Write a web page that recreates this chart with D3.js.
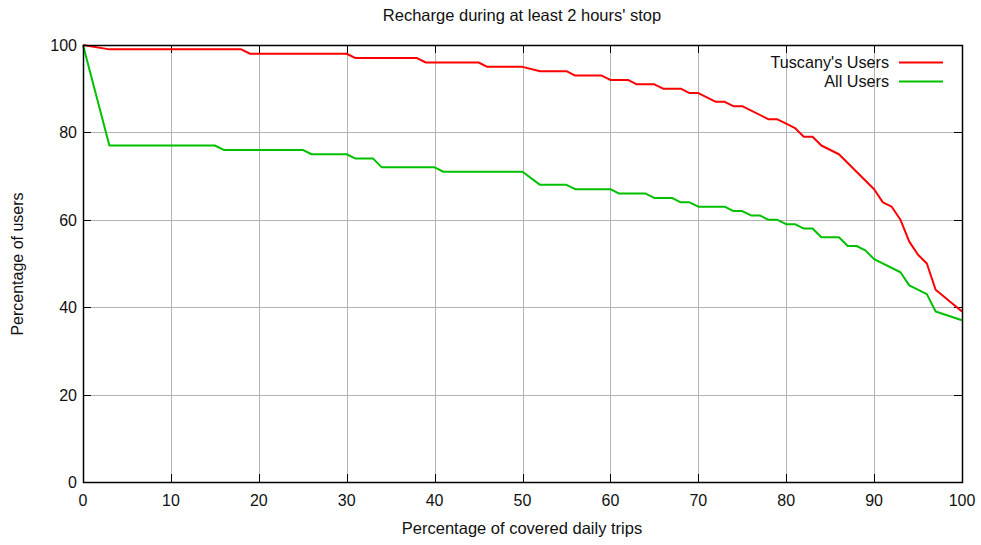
<!DOCTYPE html>
<html>
<head>
<meta charset="utf-8">
<script src="https://cdn.jsdelivr.net/npm/d3@7"></script>
<style>
  html, body { margin: 0; padding: 0; background: #fff; }
  svg { display: block; }
  text { font-family: "Liberation Sans", Arial, Helvetica, sans-serif; fill: #111; }
</style>
</head>
<body>
<svg id="chart" width="981" height="545"></svg>
<script>
// Percentage of covered daily trips (x) vs percentage of users (y)
const tuscanyX = [0, 3, 18, 19, 30, 31, 38, 39, 45, 46, 50, 52, 55, 56, 59, 60, 62, 63, 65, 66, 68, 69, 70, 72, 73, 74, 75, 78, 79, 80, 81, 82, 83, 84, 86, 90, 91, 92, 93, 94, 95, 96, 97, 100];
const tuscanyY = [100, 99, 99, 98, 98, 97, 97, 96, 96, 95, 95, 94, 94, 93, 93, 92, 92, 91, 91, 90, 90, 89, 89, 87, 87, 86, 86, 83, 83, 82, 81, 79, 79, 77, 75, 67, 64, 63, 60, 55, 52, 50, 44, 39];

const allX = [0, 3, 15, 16, 25, 26, 30, 31, 33, 34, 40, 41, 50, 52, 55, 56, 60, 61, 64, 65, 67, 68, 69, 70, 73, 74, 75, 76, 77, 78, 79, 80, 81, 82, 83, 84, 86, 87, 88, 89, 90, 93, 94, 96, 97, 100];
const allY = [100, 77, 77, 76, 76, 75, 75, 74, 74, 72, 72, 71, 71, 68, 68, 67, 67, 66, 66, 65, 65, 64, 64, 63, 63, 62, 62, 61, 61, 60, 60, 59, 59, 58, 58, 56, 56, 54, 54, 53, 51, 48, 45, 43, 39, 37];

const seriesNames = ["Tuscany's Users", "All Users"];
const seriesColors = ["#ff0000", "#00c000"];

const xTicks = [0, 10, 20, 30, 40, 50, 60, 70, 80, 90, 100];
const yTicks = [0, 20, 40, 60, 80, 100];

const titleText = "Recharge during at least 2 hours' stop";
const xLabelText = "Percentage of covered daily trips";
const yLabelText = "Percentage of users";

const svg = d3.select("#chart");
const plotL = 83, plotR = 962, plotT = 45, plotB = 482;

const x = d3.scaleLinear().domain([0, 100]).range([plotL, plotR]);
const y = d3.scaleLinear().domain([0, 100]).range([plotB, plotT]);
const px = v => Math.round(v) + 0.5;

// grid
const grid = svg.append("g").attr("stroke", "#b4b4b4").attr("stroke-width", 1);
grid.selectAll("line.vx").data(xTicks.slice(1, -1)).join("line")
  .attr("x1", d => px(x(d))).attr("x2", d => px(x(d)))
  .attr("y1", plotT).attr("y2", plotB);
grid.selectAll("line.hy").data(yTicks.slice(1, -1)).join("line")
  .attr("y1", d => px(y(d))).attr("y2", d => px(y(d)))
  .attr("x1", plotL).attr("x2", plotR);

// inward tick marks on all four sides
const tickLen = 8;
const axes = svg.append("g").attr("stroke", "#000").attr("stroke-width", 1);
axes.selectAll("line.yl").data(yTicks).join("line")
  .attr("x1", plotL).attr("x2", plotL + tickLen)
  .attr("y1", d => px(y(d))).attr("y2", d => px(y(d)));
axes.selectAll("line.yr").data(yTicks).join("line")
  .attr("x1", plotR - tickLen).attr("x2", plotR)
  .attr("y1", d => px(y(d))).attr("y2", d => px(y(d)));
axes.selectAll("line.xb").data(xTicks).join("line")
  .attr("x1", d => px(x(d))).attr("x2", d => px(x(d)))
  .attr("y1", plotB).attr("y2", plotB - tickLen);
axes.selectAll("line.xt").data(xTicks).join("line")
  .attr("x1", d => px(x(d))).attr("x2", d => px(x(d)))
  .attr("y1", plotT).attr("y2", plotT + tickLen);

// tick labels
svg.append("g").selectAll("text").data(xTicks).join("text")
  .attr("x", d => x(d)).attr("y", 506)
  .attr("text-anchor", "middle").attr("font-size", 16)
  .text(d => d);
svg.append("g").selectAll("text").data(yTicks).join("text")
  .attr("x", 77).attr("y", d => y(d) + 6)
  .attr("text-anchor", "end").attr("font-size", 16)
  .text(d => d);

// data lines
const line = d3.line().x(d => x(d[0])).y(d => y(d[1]));
const series = [
  d3.zip(tuscanyX, tuscanyY),
  d3.zip(allX, allY)
];
svg.append("g").selectAll("path").data(series).join("path")
  .attr("d", line)
  .attr("fill", "none")
  .attr("stroke", (d, i) => seriesColors[i])
  .attr("stroke-width", 2)
  .attr("stroke-linejoin", "round");

// frame
svg.append("rect")
  .attr("x", plotL + 0.5).attr("y", plotT + 0.5)
  .attr("width", plotR - plotL).attr("height", plotB - plotT)
  .attr("fill", "none").attr("stroke", "#000").attr("stroke-width", 1.5);

// legend
const legend = svg.append("g");
seriesNames.forEach((name, i) => {
  const ly = 62 + i * 19;
  legend.append("text")
    .attr("x", 889).attr("y", ly + 6)
    .attr("text-anchor", "end").attr("font-size", 16.2)
    .text(name);
  legend.append("line")
    .attr("x1", 899).attr("x2", 943)
    .attr("y1", ly + 0.5).attr("y2", ly + 0.5)
    .attr("stroke", seriesColors[i]).attr("stroke-width", 2);
});

// titles
svg.append("text")
  .attr("x", 522).attr("y", 21)
  .attr("text-anchor", "middle").attr("font-size", 16.5)
  .text(titleText);
svg.append("text")
  .attr("x", 522).attr("y", 534)
  .attr("text-anchor", "middle").attr("font-size", 16.5)
  .text(xLabelText);
svg.append("text")
  .attr("transform", "translate(23,264) rotate(-90)")
  .attr("text-anchor", "middle").attr("font-size", 16)
  .text(yLabelText);
</script>
</body>
</html>
